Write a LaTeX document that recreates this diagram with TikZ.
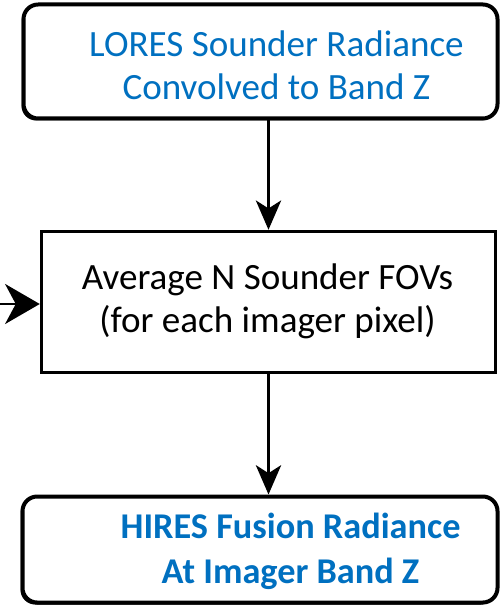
\documentclass[tikz,border=0pt]{standalone}
\usepackage{fontspec}
\setmainfont{Carlito}
\usetikzlibrary{arrows.meta,shadows}

\definecolor{offblue}{RGB}{0,112,192}
\tikzset{
  roundbox/.style={draw, line width=3pt, rounded corners=11pt, fill=white,
    drop shadow={shadow xshift=-1.5pt, shadow yshift=-1.5pt, fill=black, opacity=1},
    inner sep=0pt},
  plainbox/.style={draw, line width=2.6pt, fill=white, inner sep=0pt},
  boxtext/.style={align=center, inner sep=0pt, font=\fontsize{27.8pt}{32.3pt}\selectfont},
  flow/.style={line width=1.6pt, -{Stealth[length=22pt, width=19pt, inset=6pt]}},
  feedflow/.style={line width=2pt, arrows={-Stealth[length=26pt, width=30pt, inset=8pt]}}
}

\begin{document}
\begin{tikzpicture}[x=0.75pt,y=0.75pt,yscale=-1]
\useasboundingbox (0,0) rectangle (500,605);

%Shape: Rounded Rectangle [id:lores]
\node [roundbox, minimum width=474*0.75pt, minimum height=114*0.75pt] (lores) at (260.5,61.5) {};
%Shape: Rectangle [id:avg]
\node [plainbox, minimum width=454*0.75pt, minimum height=141*0.75pt] (avg) at (268.5,302) {};
%Shape: Rounded Rectangle [id:hires]
\node [roundbox, minimum width=475*0.75pt, minimum height=106*0.75pt] (hires) at (260,549.5) {};

% Text Node
\node [boxtext, text=offblue] (loresTxt) at (276.5,65) {LORES Sounder Radiance\\Convolved to Band Z};
% Text Node
\node [boxtext] (avgTxt) at (267.5,301) {Average N Sounder FOVs\\(for each imager pixel)};
% Text Node
\node [boxtext, text=offblue, font=\fontsize{27.2pt}{33.8pt}\selectfont\bfseries] (hiresTxt) at (290.5,551.5) {HIRES Fusion Radiance\\At Imager Band Z};

%Straight Lines
\coordinate (feed) at (-2,304);
\draw [flow] (avg.north |- lores.south) -- (avg.north);
\draw [flow] (avg.south) -- (avg.south |- hires.north);
\draw [feedflow] (feed) -- (avg.west |- feed);

\end{tikzpicture}
\end{document}
